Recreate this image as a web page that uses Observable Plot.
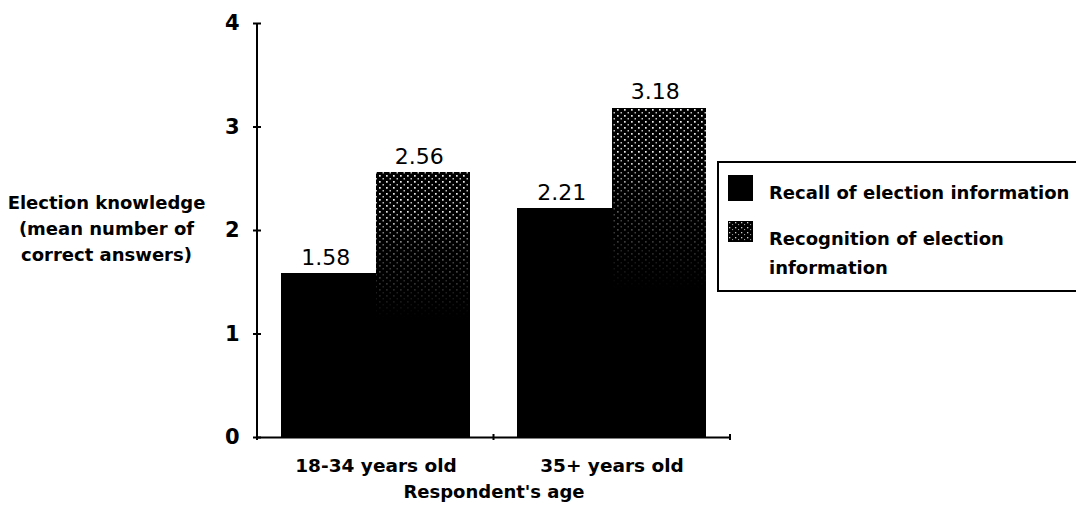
<!DOCTYPE html>
<html>
<head>
<meta charset="utf-8">
<script src="https://cdn.jsdelivr.net/npm/d3@7"></script>
<script src="https://cdn.jsdelivr.net/npm/@observablehq/plot@0.6"></script>
<style>
  html, body { margin: 0; padding: 0; background: white; overflow: hidden; }
  #wrap { position: relative; width: 1076px; height: 524px; overflow: hidden; font-family: "DejaVu Sans", sans-serif; }
  #legend { position: absolute; left: 717px; top: 161px; width: 420px; height: 131px;
            border-top: 2px solid black; border-left: 2px solid black; border-bottom: 2px solid black;
            border-right: 0; box-sizing: border-box; }
  .sw { position: absolute; left: 9px; width: 25px; }
  .lt { position: absolute; left: 50px; font-size: 18px; font-weight: bold; line-height: 29px; white-space: nowrap; }
</style>
</head>
<body>
<svg width="0" height="0" style="position:absolute">
  <defs>
    <pattern id="stipple" width="7" height="6" patternUnits="userSpaceOnUse">
      <rect x="1" y="1" width="1.7" height="1.7" fill="#f0f0f0"/>
      <rect x="4.5" y="4" width="1.5" height="1.5" fill="#c4c4c4"/>
    </pattern>
    <pattern id="stippleSw" width="6" height="5" patternUnits="userSpaceOnUse">
      <rect width="6" height="5" fill="black"/>
      <rect x="1" y="1" width="1.3" height="1.3" fill="#cfcfcf"/>
      <rect x="4" y="3" width="1.1" height="1.1" fill="#9a9a9a"/>
    </pattern>
    <linearGradient id="fadeGrad" x1="0" y1="0" x2="0" y2="1">
      <stop offset="0" stop-color="white"/>
      <stop offset="0.14" stop-color="white"/>
      <stop offset="0.3" stop-color="#666"/>
      <stop offset="0.55" stop-color="black"/>
      <stop offset="1" stop-color="black"/>
    </linearGradient>
    <mask id="fade" maskContentUnits="objectBoundingBox">
      <rect x="0" y="0" width="1" height="1" fill="url(#fadeGrad)"/>
    </mask>
  </defs>
</svg>
<div id="wrap"></div>
<script>
// ---- data ----
const ageGroups = ["18-34 years old", "35+ years old"];
const recallValues = [1.58, 2.21];
const recognitionValues = [2.56, 3.18];
const yTicks = [0, 1, 2, 3, 4];
const seriesNames = ["Recall of election information", "Recognition of election information"];
const yLabelLines = ["Election knowledge", "(mean number of", "correct answers)"];
const xLabel = "Respondent's age";

const recallRows = ageGroups.map((g, i) => ({group: g, value: recallValues[i]}));
const recogRows = ageGroups.map((g, i) => ({group: g, value: recognitionValues[i]}));

const half = 94.6; // half of the group band

const axisLine = (index, scales, values, dims) => {
  const g = d3.create("svg:g").attr("stroke", "black").attr("stroke-width", 2);
  const x0 = dims.marginLeft, x1 = dims.width - dims.marginRight;
  g.append("line").attr("x1", x0).attr("x2", x0)
    .attr("y1", scales.y(4)).attr("y2", scales.y(0));
  const xs = scales.x;
  const bw = typeof xs.bandwidth === "function" ? xs.bandwidth() : 2 * half;
  const mid = (xs(ageGroups[0]) + bw + xs(ageGroups[1])) / 2;
  [x0, mid, x1].forEach(x => {
    g.append("line").attr("x1", x).attr("x2", x)
      .attr("y1", scales.y(0) - 3).attr("y2", scales.y(0) + 3);
  });
  return g.node();
};

const chart = Plot.plot({
  width: 1076,
  height: 524,
  marginLeft: 257,
  marginRight: 346,
  marginTop: 23,
  marginBottom: 87,
  style: {fontFamily: "DejaVu Sans, sans-serif", background: "white", color: "black", overflow: "visible"},
  x: {domain: ageGroups, paddingInner: 0.2, paddingOuter: 0.1, label: null},
  y: {domain: [0, 4], label: null},
  marks: [
    Plot.barY(recallRows, {x: "group", y: "value", fill: "black", insetRight: half - 1, shapeRendering: "crispEdges"}),
    Plot.barY(recogRows, {x: "group", y: "value", fill: "black", insetLeft: half, shapeRendering: "crispEdges"}),
    Plot.barY(recogRows, {x: "group", y: "value", fill: "url(#stipple)", insetLeft: half, shapeRendering: "crispEdges"}),
    Plot.ruleY([0], {strokeWidth: 2}),
    axisLine,
    Plot.axisY({ticks: yTicks, tickSize: 8, dx: 4, tickPadding: 14, fontSize: 21, fontWeight: "bold", strokeWidth: 2, tickFormat: d3.format("d")}),
    Plot.axisX({tickSize: 0, tickPadding: 21, fontSize: 18.5, fontWeight: "bold"}),
    Plot.text(recallRows, {x: "group", y: "value", text: d => d.value.toFixed(2), dx: -half / 2 - 3, dy: -16, fontSize: 22}),
    Plot.text(recogRows, {x: "group", y: "value", text: d => d.value.toFixed(2), dx: half / 2 - 4, dy: -16, fontSize: 22}),
    Plot.text([yLabelLines.join("\n")], {text: d => d, frameAnchor: "left", dx: -151, dy: -4, textAnchor: "middle", fontSize: 18, fontWeight: "bold", lineHeight: 1.45}),
    Plot.text([xLabel], {text: d => d, frameAnchor: "bottom", dy: 60, fontSize: 18, fontWeight: "bold"})
  ]
});

d3.select(chart).selectAll('g[fill="url(#stipple)"] rect').attr("mask", "url(#fade)");

const wrap = document.getElementById("wrap");
wrap.appendChild(chart);

const legend = document.createElement("div");
legend.id = "legend";
legend.innerHTML =
  `<div class="sw" style="top:12px;height:26px;background:black"></div>` +
  `<div class="lt" style="top:15px">${seriesNames[0]}</div>` +
  `<svg class="sw" style="top:58px;height:21px" width="25" height="21"><rect width="25" height="21" fill="url(#stippleSw)"/></svg>` +
  `<div class="lt" style="top:61px;width:250px;white-space:normal">${seriesNames[1]}</div>`;
wrap.appendChild(legend);
</script>
</body>
</html>
